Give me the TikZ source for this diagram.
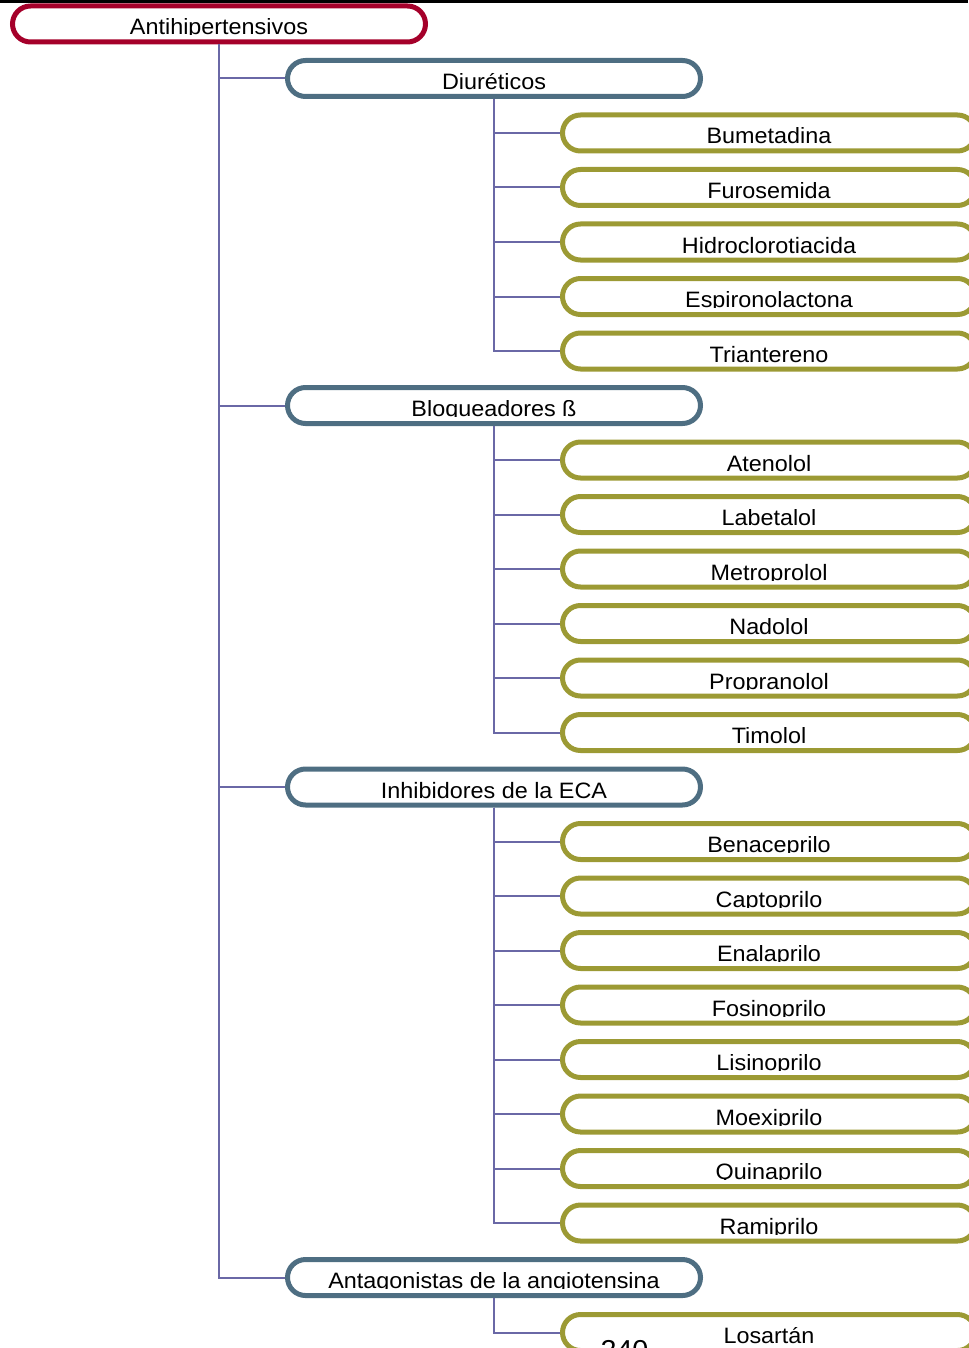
\documentclass[tikz,border=0pt]{standalone}
\usepackage{fontspec}
\setmainfont{Liberation Sans}[FakeStretch=1.05]
\usepackage{trimclip}

\definecolor{rootred}{RGB}{165,0,42}
\definecolor{groupblue}{RGB}{78,110,130}
\definecolor{drugolive}{RGB}{156,154,52}
\definecolor{linkviolet}{RGB}{106,104,166}

% text cut off at the baseline, as in the boxes
\newcommand\cutbase[1]{\clipbox{0pt {\depth} 0pt 0pt}{#1}}

\begin{document}
\begin{tikzpicture}[x=0.75pt, y=-0.75pt,
	box/.style={rectangle, rounded corners=13.5pt, line width=3.75pt,
		minimum width=309.75pt, minimum height=27pt, inner sep=0pt,
		text height=16.5pt, text depth=0pt,
		font=\fontsize{16.7pt}{19pt}\selectfont},
	top/.style={box, draw=rootred},
	group/.style={box, draw=groupblue},
	drug/.style={box, draw=drugolive},
	link/.style={draw=linkviolet, line width=1.5pt}]
		
		\useasboundingbox (0,0) rectangle (968,1348);
		\draw[line width=2pt] (0,1.3) -- (968,1.3);
		
		\node[top] (A) at (219,24) {\cutbase{Antihipertensivos}};
		
		\node[group] (B) at (494,78.5) {\cutbase{Diuréticos}};
		\node[drug] (B1) at (769,133) {\cutbase{Bumetadina}};
		\node[drug] (B2) at (769,187.5) {\cutbase{Furosemida}};
		\node[drug] (B3) at (769,242) {\cutbase{Hidroclorotiacida}};
		\node[drug] (B4) at (769,296.5) {\cutbase{Espironolactona}};
		\node[drug] (B5) at (769,351) {\cutbase{Triantereno}};
		
		\node[group] (C) at (494,405.5) {\cutbase{Bloqueadores ß}};
		\node[drug] (C1) at (769,460) {\cutbase{Atenolol}};
		\node[drug] (C2) at (769,514.5) {\cutbase{Labetalol}};
		\node[drug] (C3) at (769,569) {\cutbase{Metroprolol}};
		\node[drug] (C4) at (769,623.5) {\cutbase{Nadolol}};
		\node[drug] (C5) at (769,678) {\cutbase{Propranolol}};
		\node[drug] (C6) at (769,732.5) {\cutbase{Timolol}};
		
		\node[group] (D) at (494,787) {\cutbase{Inhibidores de la ECA}};
		\node[drug] (D1) at (769,841.5) {\cutbase{Benaceprilo}};
		\node[drug] (D2) at (769,896) {\cutbase{Captoprilo}};
		\node[drug] (D3) at (769,950.5) {\cutbase{Enalaprilo}};
		\node[drug] (D4) at (769,1005) {\cutbase{Fosinoprilo}};
		\node[drug] (D5) at (769,1059.5) {\cutbase{Lisinoprilo}};
		\node[drug] (D6) at (769,1114) {\cutbase{Moexiprilo}};
		\node[drug] (D7) at (769,1168.5) {\cutbase{Quinaprilo}};
		\node[drug] (D8) at (769,1223) {\cutbase{Ramiprilo}};
		
		\node[group] (E) at (494,1277.5) {\cutbase{Antagonistas de la angiotensina}};
		\node[drug] (E1) at (769,1332.5) {\cutbase{Losartán}};
		
		% page number, only its top is on the page
		\node[anchor=base, inner sep=0pt, font=\fontsize{20.5pt}{23pt}\selectfont] (pg) at (624.5,1359) {240};
		
		\draw[link] (A) |- (B);
		\draw[link] (A) |- (C);
		\draw[link] (A) |- (D);
		\draw[link] (A) |- (E);
		
		\draw[link] (B) |- (B1);
		\draw[link] (B) |- (B2);
		\draw[link] (B) |- (B3);
		\draw[link] (B) |- (B4);
		\draw[link] (B) |- (B5);
		
		\draw[link] (C) |- (C1);
		\draw[link] (C) |- (C2);
		\draw[link] (C) |- (C3);
		\draw[link] (C) |- (C4);
		\draw[link] (C) |- (C5);
		\draw[link] (C) |- (C6);
		
		\draw[link] (D) |- (D1);
		\draw[link] (D) |- (D2);
		\draw[link] (D) |- (D3);
		\draw[link] (D) |- (D4);
		\draw[link] (D) |- (D5);
		\draw[link] (D) |- (D6);
		\draw[link] (D) |- (D7);
		\draw[link] (D) |- (D8);
		
		\draw[link] (E) |- (E1);
	\end{tikzpicture}
\end{document}
